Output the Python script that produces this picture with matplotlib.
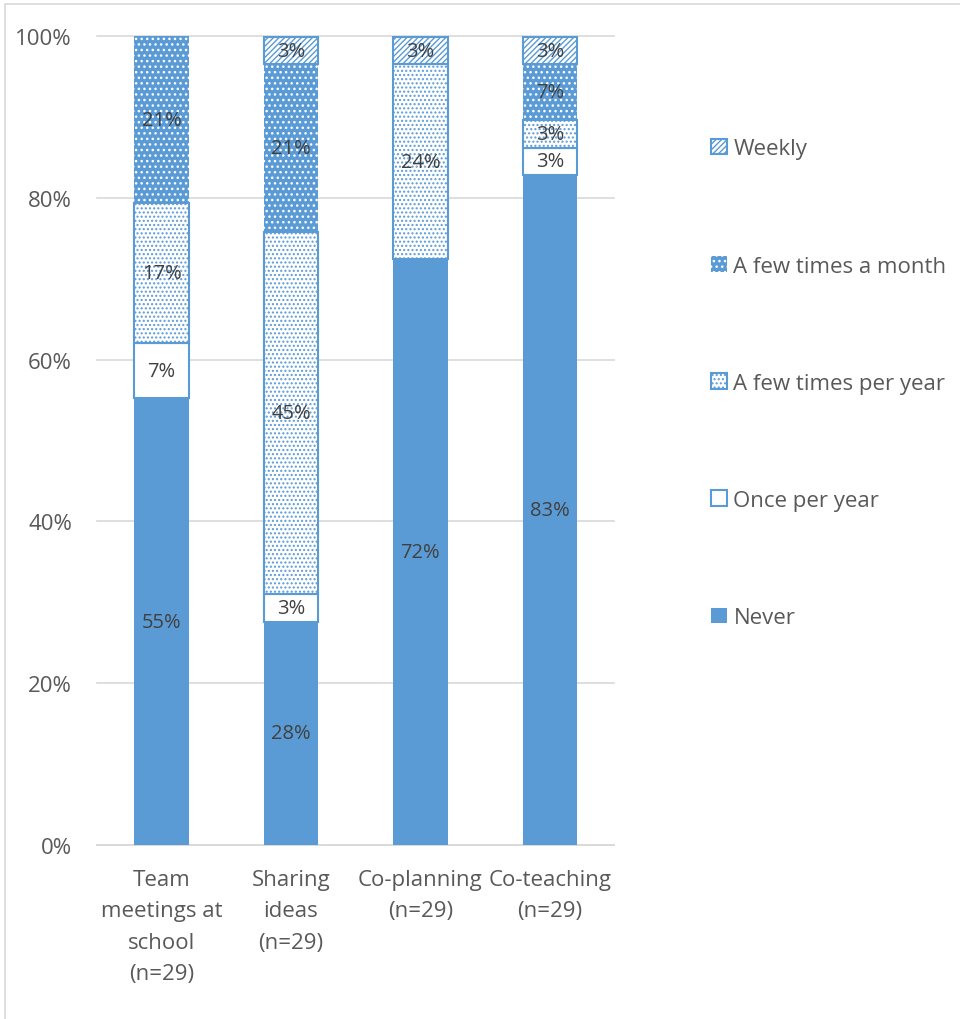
import numpy as np
import matplotlib
matplotlib.use("Agg")
import matplotlib.pyplot as plt
from matplotlib.patches import Rectangle

# share of respondents (%), n=29 for every activity
categories = ["Team\nmeetings at\nschool\n(n=29)", "Sharing\nideas\n(n=29)",
              "Co-planning\n(n=29)", "Co-teaching\n(n=29)"]
never = [55.2, 27.6, 72.4, 82.8]
once_per_year = [6.9, 3.4, 0.0, 3.4]
few_per_year = [17.2, 44.8, 24.1, 3.4]
few_per_month = [20.7, 20.7, 0.0, 6.9]
weekly = [0.0, 3.4, 3.4, 3.4]

series_names = ["Never", "Once per year", "A few times per year",
                "A few times a month", "Weekly"]
series_values = [never, once_per_year, few_per_year, few_per_month, weekly]

BLUE = "#5B9BD5"
plt.rcParams["font.family"] = ["Open Sans", "DejaVu Sans"]
plt.rcParams["hatch.linewidth"] = 1.0

# face, edge/hatch colour, hatch, edge width
styles = [
    (BLUE, BLUE, None, 0.0),
    ("white", BLUE, None, 1.5),
    ("white", BLUE, "....", 1.5),
    (BLUE, "white", "...", 0.0),
    ("white", BLUE, "//////", 1.5),
]

fig = plt.figure(figsize=(9.6, 10.2), dpi=100)
ax = fig.add_axes([0.101, 0.1706, 0.539, 0.7931])

x = np.arange(len(categories))
bottom = np.zeros(len(categories))
handles = []
for name, vals, (fc, ec, hatch, lw) in zip(series_names, series_values, styles):
    vals = np.array(vals) / 100.0
    bars = ax.bar(x, vals, width=0.42, bottom=bottom, color=fc, edgecolor=ec,
                  hatch=hatch, linewidth=lw, label=name, zorder=3)
    handles.append(bars)
    for xi, v, b in zip(x, vals, bottom):
        if v > 0:
            ax.text(xi, b + v / 2, f"{round(v * 100)}%", ha="center", va="center",
                    fontsize=14.5, color="#404040", zorder=4)
    bottom += vals

ax.set_xlim(-0.5, 3.5)
ax.set_ylim(0, 1)
ax.set_yticks(np.arange(0, 1.01, 0.2))
ax.set_yticklabels([f"{int(t * 100)}%" for t in np.arange(0, 1.01, 0.2)])
ax.set_xticks(x)
ax.set_xticklabels(categories, linespacing=1.66)
ax.tick_params(axis="both", length=0, labelsize=16, labelcolor="#595959")
ax.tick_params(axis="y", pad=18)
ax.tick_params(axis="x", pad=17)
ax.yaxis.grid(True, color="#D9D9D9", linewidth=1.2, zorder=0)
ax.set_axisbelow(True)
for side in ["top", "right", "left"]:
    ax.spines[side].set_visible(False)
ax.spines["bottom"].set_color("#D9D9D9")
ax.spines["bottom"].set_linewidth(1.2)
for gl in ax.get_ygridlines():
    gl.set_clip_on(False)

leg = fig.legend(handles[::-1], series_names[::-1], loc="upper left",
                 bbox_to_anchor=(0.72, 0.883), frameon=False, fontsize=16,
                 handlelength=0.7, handleheight=0.7, handletextpad=0.3,
                 labelspacing=4.33, labelcolor="#595959")

# light chart-area border (left and top edges visible)
fig.patches.append(Rectangle((5 / 960, -0.1), 1.2, 1.1 - 5 / 1020,
                             transform=fig.transFigure, fill=False,
                             edgecolor="#D9D9D9", linewidth=1.2))

fig.savefig("out.png", dpi=100)
